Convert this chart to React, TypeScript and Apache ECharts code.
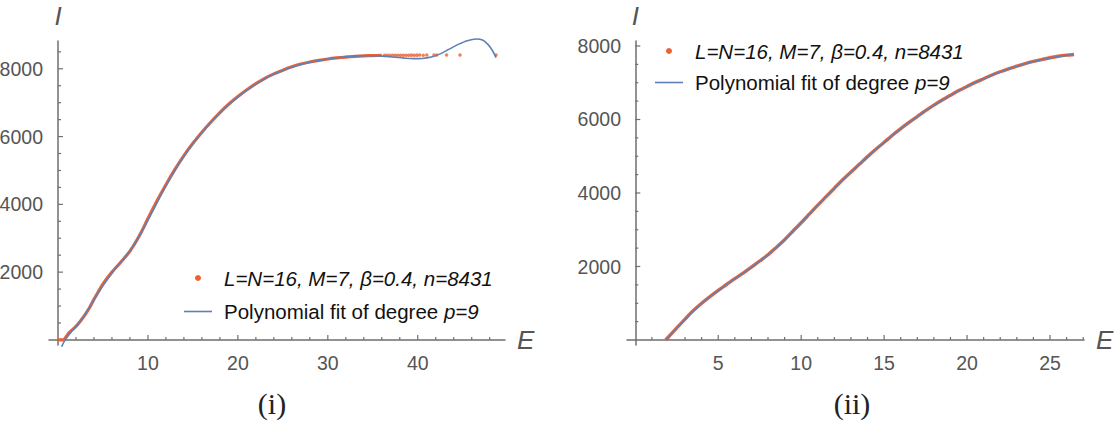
import React, { useEffect, useRef } from "react";
import * as echarts from "echarts";

// ---------- names ----------
const ORANGE_NAME = "L=N=16, M=7, β=0.4, n=8431";
const FIT_NAME = "Polynomial fit of degree p=9";

// ---------- panel (i) data ----------
const leftDataE = [0, 0.6, 0.9, 1.2, 1.5, 2, 2.5, 3, 3.5, 4, 4.5, 5, 6, 7, 8, 9, 10, 11, 12, 13, 14, 15, 16, 17, 18, 19, 20, 21, 22, 23, 24, 25, 26, 27, 28, 29, 30, 31, 32, 33, 34, 35, 36];
const leftDataI = [0, 0, 90, 200, 280, 400, 560, 740, 950, 1200, 1430, 1650, 2000, 2300, 2620, 3050, 3580, 4100, 4580, 5030, 5440, 5800, 6130, 6430, 6710, 6960, 7180, 7380, 7560, 7720, 7850, 7960, 8060, 8140, 8200, 8250, 8290, 8320, 8345, 8365, 8380, 8390, 8395];
// sparse points of the plateau
const leftTailE = [36.3, 36.6, 36.9, 37.2, 37.5, 37.8, 38.1, 38.4, 38.7, 39.0, 39.3, 39.6, 39.9, 40.2, 40.6, 41.0, 41.8, 42.1, 43.2, 44.7, 48.7];
const leftTailI = [8396, 8398, 8398, 8400, 8399, 8400, 8401, 8400, 8402, 8401, 8403, 8402, 8403, 8404, 8402, 8404, 8405, 8404, 8406, 8405, 8408];
// polynomial fit p=9
const leftFitE = [0.4, 0.8, 1.5, 2.5, 3.5, 4.5, 5.5, 6.5, 7.5, 8.5, 9.5, 10.5, 11.5, 12.5, 13.5, 14.5, 15.5, 16.5, 17.5, 18.5, 19.5, 20.5, 21.5, 22.5, 23.5, 24.5, 25.5, 26.5, 27.5, 28.5, 29.5, 30.5, 31.5, 32.5, 33.5, 34.5, 35.5, 36.5, 37.5, 38.5, 39.5, 40.5, 41.5, 42.5, 43.5, 44.5, 45.5, 46.5, 47.2, 47.8, 48.3, 48.7];
const leftFitI = [-200, 0, 245, 560, 960, 1400, 1800, 2150, 2460, 2820, 3280, 3790, 4300, 4780, 5220, 5610, 5960, 6270, 6560, 6820, 7060, 7270, 7460, 7630, 7780, 7900, 8000, 8090, 8160, 8220, 8270, 8310, 8340, 8365, 8380, 8385, 8380, 8365, 8340, 8315, 8300, 8305, 8345, 8440, 8580, 8720, 8830, 8880, 8850, 8720, 8540, 8330];

// ---------- panel (ii) data ----------
const rightDataE = [1.83, 2.5, 3, 3.5, 4, 4.5, 5, 5.5, 6, 6.5, 7, 7.5, 8, 8.5, 9, 9.5, 10, 10.5, 11, 11.5, 12, 12.5, 13, 13.5, 14, 14.5, 15, 15.5, 16, 16.5, 17, 17.5, 18, 18.5, 19, 19.5, 20, 20.5, 21, 21.5, 22, 22.5, 23, 23.5, 24, 24.5, 25, 25.5, 26, 26.45];
const rightDataI = [0, 330, 570, 800, 1000, 1180, 1350, 1510, 1670, 1820, 1980, 2150, 2320, 2520, 2730, 2960, 3190, 3430, 3670, 3900, 4130, 4360, 4570, 4780, 4990, 5190, 5380, 5570, 5750, 5920, 6080, 6240, 6390, 6530, 6660, 6790, 6900, 7010, 7110, 7210, 7300, 7380, 7450, 7520, 7580, 7630, 7680, 7720, 7750, 7770];
const rightFitE = [1.85, 2.5, 3, 3.5, 4, 4.5, 5, 5.5, 6, 6.5, 7, 7.5, 8, 8.5, 9, 9.5, 10, 10.5, 11, 11.5, 12, 12.5, 13, 13.5, 14, 14.5, 15, 15.5, 16, 16.5, 17, 17.5, 18, 18.5, 19, 19.5, 20, 20.5, 21, 21.5, 22, 22.5, 23, 23.5, 24, 24.5, 25, 25.5, 26, 26.45];
const rightFitI = [0, 320, 560, 790, 990, 1175, 1345, 1505, 1665, 1815, 1975, 2145, 2315, 2515, 2725, 2955, 3185, 3425, 3665, 3895, 4125, 4355, 4565, 4775, 4985, 5185, 5375, 5565, 5745, 5915, 6075, 6235, 6385, 6525, 6655, 6785, 6895, 7005, 7105, 7205, 7295, 7375, 7445, 7515, 7575, 7625, 7675, 7715, 7745, 7760];

// ---------- tick labels ----------
const leftXTicks = [10, 20, 30, 40];
const leftYTicks = [2000, 4000, 6000, 8000];
const rightXTicks = [5, 10, 15, 20, 25];
const rightYTicks = [2000, 4000, 6000, 8000];

const ORANGE = "#EB6235";
const BLUE = "#5E81B5";
const AXIS = "#6f6f6f";
const LABEL = "#555555";
const SANS = "'Liberation Sans', Arial, Helvetica, sans-serif";
const SERIF = "'Liberation Serif', 'DejaVu Serif', serif";

const zip = (xs: number[], ys: number[]) => xs.map((x, i) => [x, ys[i]]);
const minorTicks = (step: number, max: number, major: number) => {
  const out: number[] = [];
  for (let v = step; v <= max + 1e-9; v += step) {
    const r = Math.round(v * 1000) / 1000;
    if (Math.abs(r / major - Math.round(r / major)) > 1e-6) out.push(r);
  }
  return out;
};

function xAxis(gridIndex: number, min: number, max: number, labels: number[]) {
  return {
    type: "value", gridIndex, min, max, position: "bottom",
    name: "E", nameLocation: "end", nameGap: 12,
    nameTextStyle: { fontFamily: SANS, fontStyle: "italic", fontSize: 26, color: LABEL, verticalAlign: "middle" },
    axisLine: { show: true, onZero: true, lineStyle: { color: AXIS, width: 1.5 } },
    axisTick: { show: false },
    axisLabel: {
      show: true, customValues: labels, margin: 8, color: LABEL, fontFamily: SANS, fontSize: 19.5,
      formatter: (v: number) => String(v),
    },
    splitLine: { show: false },
    minorTick: { show: false },
  };
}

function yAxis(gridIndex: number, min: number, max: number, labels: number[]) {
  return {
    type: "value", gridIndex, min, max, position: "left",
    name: "I", nameLocation: "end", nameGap: 12,
    nameTextStyle: { fontFamily: SANS, fontStyle: "italic", fontSize: 26, color: LABEL, align: "center" },
    axisLine: { show: true, onZero: true, lineStyle: { color: AXIS, width: 1.5 } },
    axisTick: { show: false },
    axisLabel: {
      show: true, customValues: labels, margin: 6, color: LABEL, fontFamily: SANS, fontSize: 19.5,
      formatter: (v: number) => String(v),
    },
    splitLine: { show: false },
    minorTick: { show: false },
  };
}

const legendFormatter = (name: string) =>
  name === ORANGE_NAME ? `{i|${name}}` : "Polynomial fit of degree {i|p=9}";

function legend(left: number, top: number, gap: number) {
  return {
    orient: "vertical", left, top, itemWidth: 28, itemHeight: 6, itemGap: gap,
    selectedMode: false,
    data: [
      { name: ORANGE_NAME, icon: "circle", itemStyle: { color: ORANGE, borderWidth: 0 } },
      { name: FIT_NAME, icon: "path://M0,0H28V1.6H0Z", itemStyle: { color: BLUE, borderWidth: 0 } },
    ],
    formatter: legendFormatter,
    textStyle: {
      fontFamily: SANS, fontSize: 20.5, color: "#111", padding: [0, 0, 0, 7],
      rich: { i: { fontFamily: SANS, fontSize: 20.5, fontStyle: "italic", color: "#111" } },
    },
  };
}

const titles = [
  { type: "text", x: 272, y: 403, silent: true, style: { text: "(i)", font: `30px ${SERIF}`, fill: "#222", textAlign: "center", textVerticalAlign: "middle", align: "center", verticalAlign: "middle" } },
  { type: "text", x: 852, y: 403, silent: true, style: { text: "(ii)", font: `30px ${SERIF}`, fill: "#222", textAlign: "center", textVerticalAlign: "middle", align: "center", verticalAlign: "middle" } },
];

const option: any = {
  animation: false,
  backgroundColor: "#ffffff",
  grid: [
    { left: 49, top: 41, width: 456, height: 304, containLabel: false, outerBoundsMode: "none" },
    { left: 627, top: 41, width: 457, height: 304, containLabel: false, outerBoundsMode: "none" },
  ],
  xAxis: [xAxis(0, -1, 49.7, leftXTicks), xAxis(1, -0.5, 27.05, rightXTicks)],
  yAxis: [yAxis(0, -150, 8820, leftYTicks), yAxis(1, -136, 8136, rightYTicks)],
  legend: [legend(179, 263, 13), legend(650, 36, 11)],
  graphic: { elements: titles },
  series: [
    {
      type: "line", name: ORANGE_NAME, xAxisIndex: 0, yAxisIndex: 0, data: zip(leftDataE, leftDataI),
      showSymbol: false, symbol: "none", smooth: 0.3, z: 2,
      lineStyle: { color: ORANGE, width: 3.2 }, itemStyle: { color: ORANGE },
    },
    {
      type: "scatter", name: ORANGE_NAME, xAxisIndex: 0, yAxisIndex: 0, data: zip(leftTailE, leftTailI),
      symbolSize: 3.5, z: 2, itemStyle: { color: ORANGE },
    },
    {
      type: "line", name: FIT_NAME, xAxisIndex: 0, yAxisIndex: 0, data: zip(leftFitE, leftFitI),
      showSymbol: false, symbol: "none", smooth: 0.3, z: 3, clip: false,
      lineStyle: { color: BLUE, width: 1.6 }, itemStyle: { color: BLUE },
    },
    {
      type: "line", name: ORANGE_NAME, xAxisIndex: 1, yAxisIndex: 1, data: zip(rightDataE, rightDataI),
      showSymbol: false, symbol: "none", smooth: 0.3, z: 2,
      lineStyle: { color: ORANGE, width: 3.4 }, itemStyle: { color: ORANGE },
    },
    {
      type: "line", name: FIT_NAME, xAxisIndex: 1, yAxisIndex: 1, data: zip(rightFitE, rightFitI),
      showSymbol: false, symbol: "none", smooth: 0.3, z: 3,
      lineStyle: { color: BLUE, width: 1.6 }, itemStyle: { color: BLUE },
    },
  ],
};

// tick specs per panel: [gridIndex, x majors, x minors, y majors, y minors]
const tickSpecs: [number, number[], number[], number[], number[]][] = [
  [0, leftXTicks, minorTicks(2, 48, 10), leftYTicks, minorTicks(500, 8500, 2000)],
  [1, rightXTicks, minorTicks(1, 27, 5), rightYTicks, minorTicks(500, 7500, 2000)],
];

export default function App() {
  const ref = useRef<HTMLDivElement>(null);
  useEffect(() => {
    if (!ref.current) return;
    const chart = echarts.init(ref.current, null, { renderer: "svg" });
    chart.setOption(option);
    const tickEls: any[] = [];
    const tick = (x1: number, y1: number, x2: number, y2: number) =>
      tickEls.push({
        type: "line", silent: true, z: 1,
        shape: { x1, y1, x2, y2 },
        style: { stroke: AXIS, lineWidth: 1.2 },
      });
    tickSpecs.forEach(([g, xMaj, xMin, yMaj, yMin]) => {
      xMaj.forEach((v) => { const p = chart.convertToPixel({ gridIndex: g }, [v, 0]) as number[]; tick(p[0], p[1], p[0], p[1] - 5); });
      xMin.forEach((v) => { const p = chart.convertToPixel({ gridIndex: g }, [v, 0]) as number[]; tick(p[0], p[1], p[0], p[1] - 3); });
      yMaj.forEach((v) => { const p = chart.convertToPixel({ gridIndex: g }, [0, v]) as number[]; tick(p[0], p[1], p[0] + 5, p[1]); });
      yMin.forEach((v) => { const p = chart.convertToPixel({ gridIndex: g }, [0, v]) as number[]; tick(p[0], p[1], p[0] + 3, p[1]); });
    });
    chart.setOption({ graphic: { elements: [...titles, ...tickEls] } });
    return () => chart.dispose();
  }, []);
  return (
    <div
      ref={ref}
      style={{ position: "fixed", left: 0, top: 0, width: 1116, height: 421, background: "#fff" }}
    />
  );
}
